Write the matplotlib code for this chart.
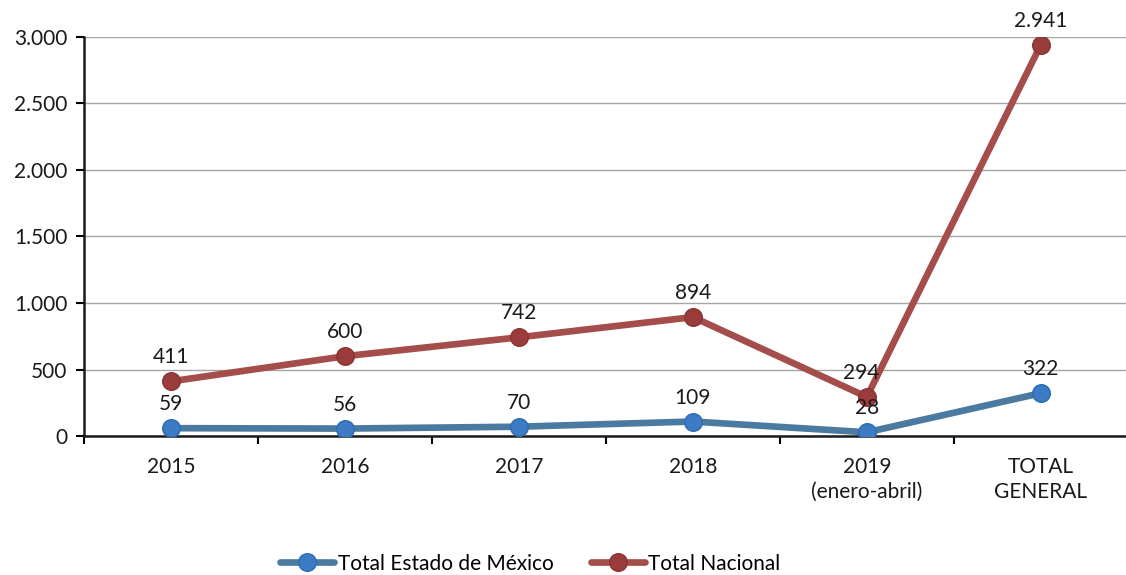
import matplotlib

matplotlib.use("Agg")
import matplotlib.pyplot as plt
import numpy as np

# Datos
categorias = ["2015", "2016", "2017", "2018", "2019\n(enero-abril)", "TOTAL\nGENERAL"]
total_edomex = [59, 56, 70, 109, 28, 322]
total_nacional = [411, 600, 742, 894, 294, 2941]
y_ticks = [0, 500, 1000, 1500, 2000, 2500, 3000]

AZUL_LINEA = "#4a7aa0"
AZUL_PUNTO = "#3d7cc4"
ROJO_LINEA = "#a54d4b"
ROJO_PUNTO = "#9b3c3c"
TEXTO = "#1a1a1a"
FS = 15

plt.rcParams["font.family"] = ["Lato", "DejaVu Sans"]

fig = plt.figure(figsize=(11.26, 5.75), dpi=100)
ax = fig.add_axes([0.0746, 0.2417, 0.927, 0.694])

x = np.arange(len(categorias))
ax.plot(x, total_edomex, color=AZUL_LINEA, lw=4.8, marker="o", ms=12.5,
        mfc=AZUL_PUNTO, mec="#2f6fb5", mew=1.2, label="Total Estado de México",
        zorder=3, solid_capstyle="round")
ax.plot(x, total_nacional, color=ROJO_LINEA, lw=4.8, marker="o", ms=12.5,
        mfc=ROJO_PUNTO, mec="#8e3535", mew=1.2, label="Total Nacional",
        zorder=3, solid_capstyle="round")

# Etiquetas de valor sobre cada punto
def fmt(v):
    return f"{v:,}".replace(",", ".")

for xi, v in zip(x, total_edomex):
    ax.annotate(fmt(v), (xi, v), xytext=(0, 10), textcoords="offset points",
                ha="center", va="bottom", fontsize=FS, color=TEXTO)
for xi, v in zip(x, total_nacional):
    dx = -4 if xi == 4 else 0
    ax.annotate(fmt(v), (xi, v), xytext=(dx, 10), textcoords="offset points",
                ha="center", va="bottom", fontsize=FS, color=TEXTO)

ax.set_xlim(-0.5, len(categorias) - 0.5)
ax.set_ylim(0, 3000)
ax.set_yticks(y_ticks)
ax.set_yticklabels([fmt(t) for t in y_ticks], fontsize=FS, color=TEXTO)
ax.set_xticks(x)
ax.set_xticklabels(categorias, fontsize=FS, color=TEXTO, linespacing=1.3)
ax.set_xticks(np.arange(-0.5, len(categorias)), minor=True)
ax.tick_params(axis="x", which="major", length=0, pad=15)
ax.tick_params(axis="x", which="minor", length=6, width=1.5, direction="out")
ax.tick_params(axis="y", length=6, width=1.5, direction="out", pad=6)

ax.yaxis.grid(True, color="#a6a6a6", lw=1)
ax.set_axisbelow(True)
for s in ("top", "right"):
    ax.spines[s].set_visible(False)
for s in ("left", "bottom"):
    ax.spines[s].set_linewidth(1.8)
    ax.spines[s].set_color(TEXTO)

fig.legend(loc="lower center", bbox_to_anchor=(0.471, -0.03), ncol=2,
           frameon=False, fontsize=FS, handlelength=2.6, handletextpad=0.15,
           columnspacing=1.8)

fig.savefig("out.png", dpi=100, facecolor="white")
